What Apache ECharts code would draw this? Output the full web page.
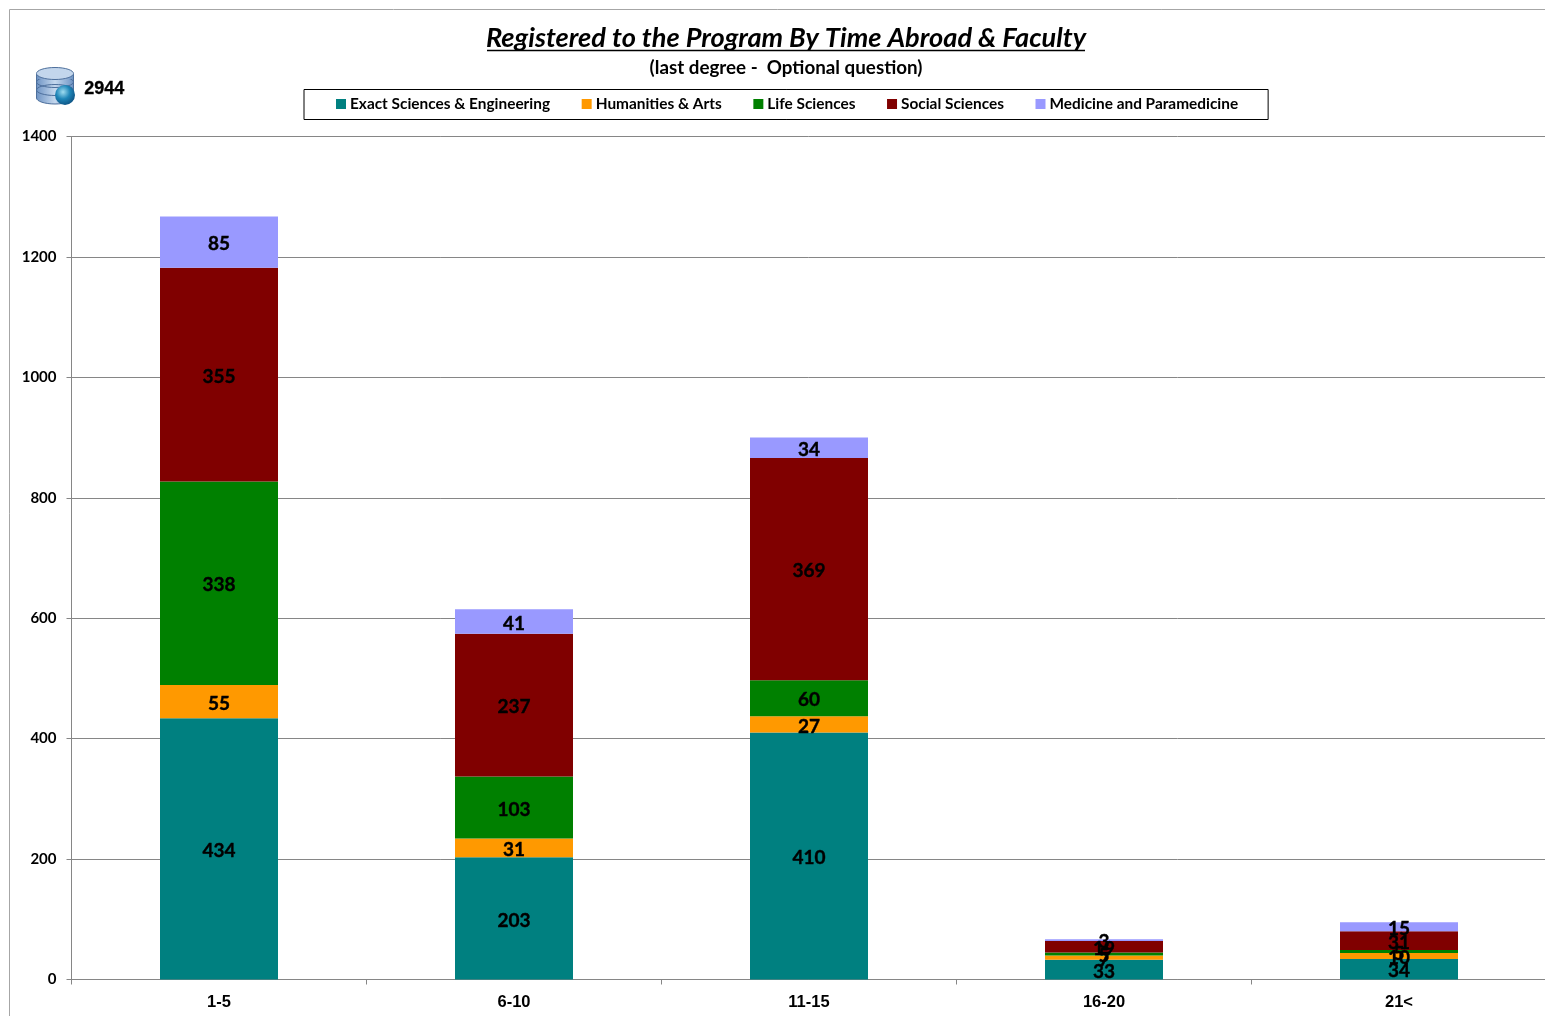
<!DOCTYPE html>
<html>
<head>
<meta charset="utf-8">
<style>html,body{margin:0;background:#fff}#chart{width:1545px;height:1016px}</style>
<script src="https://cdn.jsdelivr.net/npm/echarts@6/dist/echarts.min.js"></script>
</head>
<body>
<div id="chart"></div>
<script>
var categories = ['1-5', '6-10', '11-15', '16-20', '21<'];
var exact = [434, 203, 410, 33, 34];
var humanities = [55, 31, 27, 7, 10];
var life = [338, 103, 60, 5, 5];
var social = [355, 237, 369, 19, 31];
var medicine = [85, 41, 34, 3, 15];
var total = '2944';
var titleText = 'Registered to the Program By Time Abroad & Faculty';
var subtitleText = '(last degree -  Optional question)';

var font = 'Lato';
function bar(name, data, color) {
  return {
    name: name,
    type: 'bar',
    stack: 'all',
    barWidth: '40%',
    data: data,
    itemStyle: {color: color},
    label: {
      show: true, position: 'inside', offset: [0, 2], color: '#000',
      fontFamily: font, fontWeight: 'bold', fontSize: 19,
      textBorderColor: '#000', textBorderWidth: 0.4
    }
  };
}

// database icon next to the total
var blue = new echarts.graphic.LinearGradient(0, 0, 1, 0, [
  {offset: 0, color: '#6f94c4'}, {offset: 0.5, color: '#c5d8ee'}, {offset: 1, color: '#6f94c4'}
]);
var ln = {stroke: '#4d6f9c', lineWidth: 1};
var icon = [
  {type: 'ellipse', shape: {cx: 55, cy: 98, rx: 18.5, ry: 6}, style: {fill: blue, stroke: ln.stroke}},
  {type: 'rect', shape: {x: 36.5, y: 74, width: 37, height: 24}, style: {fill: blue}},
  {type: 'line', shape: {x1: 36.5, y1: 74, x2: 36.5, y2: 98}, style: ln},
  {type: 'line', shape: {x1: 73.5, y1: 74, x2: 73.5, y2: 98}, style: ln},
  {type: 'ellipse', shape: {cx: 55, cy: 90, rx: 18.5, ry: 5.5}, style: {fill: 'none', stroke: ln.stroke}},
  {type: 'ellipse', shape: {cx: 55, cy: 82, rx: 18.5, ry: 5.5}, style: {fill: 'none', stroke: ln.stroke}},
  {type: 'rect', shape: {x: 37, y: 74, width: 36, height: 5}, style: {fill: blue}},
  {type: 'ellipse', shape: {cx: 55, cy: 73.5, rx: 18.5, ry: 6}, style: {fill: '#c3d6ec', stroke: ln.stroke}},
  {type: 'circle', shape: {cx: 65, cy: 95, r: 10}, style: {
    fill: new echarts.graphic.RadialGradient(0.4, 0.35, 0.7, [
      {offset: 0, color: '#9fdcf0'}, {offset: 0.5, color: '#1f86b8'}, {offset: 1, color: '#0c4f80'}
    ])
  }}
];

var chart = echarts.init(document.getElementById('chart'));
chart.setOption({
  backgroundColor: '#fff',
  animation: false,
  title: [
    {text: titleText, left: 781, top: 20, textAlign: 'center',
      textStyle: {fontFamily: font, fontStyle: 'italic', fontWeight: 'bold', fontSize: 27.2, color: '#000'}},
    {text: subtitleText, left: 781, top: 53, textAlign: 'center',
      textStyle: {fontFamily: font, fontWeight: 'bold', fontSize: 18.8, color: '#000'}}
  ],
  legend: {
    left: 304,
    top: 89.5,
    padding: [7, 30, 8, 32],
    borderColor: '#000',
    borderWidth: 1,
    itemWidth: 10,
    itemHeight: 10,
    itemGap: 31.6,
    icon: 'rect',
    textStyle: {fontFamily: font, fontWeight: 'bold', fontSize: 15.4, color: '#000', padding: [0, 0, 0, -1]}
  },
  grid: {left: 71.5, width: 1475, top: 136.5, bottom: 36.5, outerBoundsMode: 'none'},
  xAxis: {
    type: 'category',
    data: categories,
    axisLine: {lineStyle: {color: '#868686'}},
    axisTick: {show: true, alignWithLabel: false, length: 5, lineStyle: {color: '#868686'}},
    axisLabel: {fontFamily: 'Liberation Sans', fontWeight: 'bold', fontSize: 16.5, color: '#000', margin: 14}
  },
  yAxis: {
    type: 'value',
    min: 0,
    max: 1400,
    interval: 200,
    axisLine: {show: true, lineStyle: {color: '#868686'}},
    axisTick: {show: true, length: 5, lineStyle: {color: '#868686'}},
    axisLabel: {fontFamily: font, fontWeight: 'bold', fontSize: 15, color: '#000', margin: 15, formatter: function (v) { return String(v); }},
    splitLine: {lineStyle: {color: '#868686'}}
  },
  series: [
    bar('Exact Sciences & Engineering', exact, '#008080'),
    bar('Humanities & Arts', humanities, '#ff9900'),
    bar('Life Sciences', life, '#008000'),
    bar('Social Sciences', social, '#800000'),
    bar('Medicine and Paramedicine', medicine, '#9999ff')
  ],
  graphic: [
    {type: 'rect', silent: true, shape: {x: 9.5, y: 9.5, width: 1600, height: 1100}, style: {fill: 'none', stroke: '#a6a6a6', lineWidth: 1}},
    {type: 'line', silent: true, shape: {x1: 487, y1: 50.5, x2: 1085, y2: 50.5}, style: {stroke: '#000', lineWidth: 1.5}},
    {type: 'text', left: 84, top: 80, style: {text: total, fontFamily: 'Liberation Sans', fontWeight: 'bold', fontSize: 18, fill: '#000', stroke: '#000', lineWidth: 0.3}},
    {type: 'group', silent: true, children: icon}
  ]
});
</script>
</body>
</html>
